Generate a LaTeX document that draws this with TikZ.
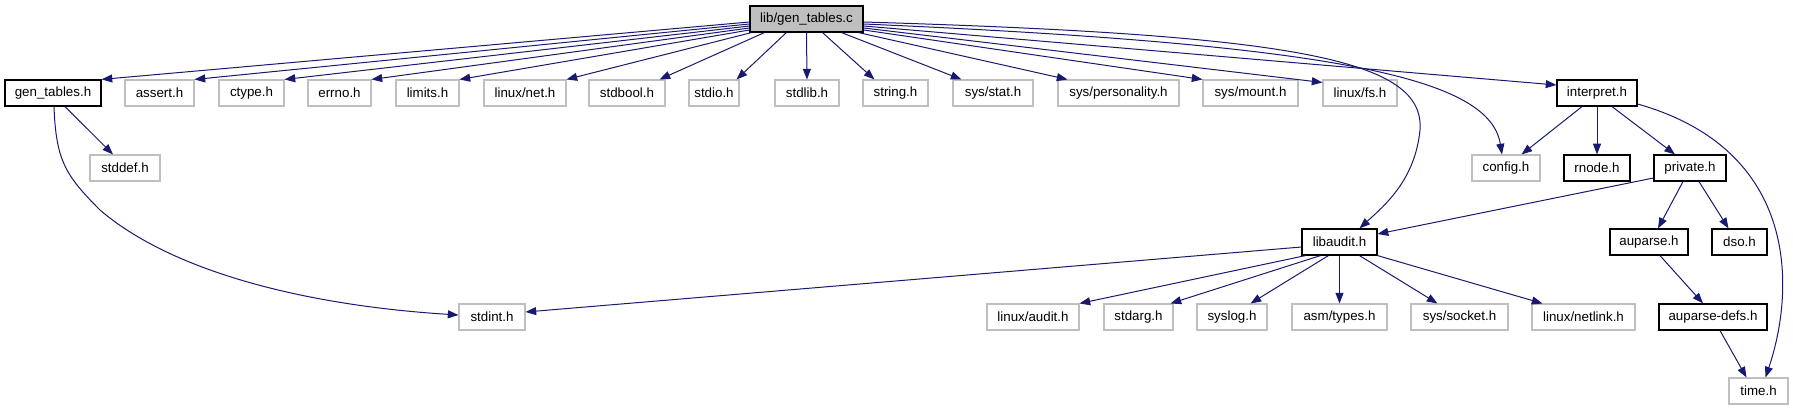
\documentclass[tikz,border=0pt]{standalone}
\usepackage{fontspec}
\setmainfont{Liberation Sans}
\usetikzlibrary{arrows.meta,calc}
\definecolor{edgeblue}{HTML}{191970}
\definecolor{greyb}{HTML}{BFBFBF}
\begin{document}
\begin{tikzpicture}[x=0.75pt,y=-0.75pt,
  every node/.style={font=\fontsize{10}{12}\selectfont, inner sep=0pt, minimum height=19.5pt, rectangle},
  dnode/.style={draw=black, line width=0.9pt, minimum width=#1*0.75pt},
  enode/.style={draw=greyb, line width=0.8pt, minimum width=#1*0.75pt},
  rootnode/.style={draw=black, fill=greyb, line width=0.9pt, minimum width=#1*0.75pt},
  dep/.style={draw=edgeblue, line width=0.75pt, -{Triangle[length=8pt,width=6pt]}}
]
\useasboundingbox (0,0) rectangle (1793,411);
% row 0
\node[rootnode=113] (root) at (806.5,19) {lib/gen\_tables.c};
% row 1
\node[dnode=96] (gt) at (53,93) {gen\_tables.h};
\node[enode=69] (assert) at (159.5,93) {assert.h};
\node[enode=65] (ctype) at (251.5,93) {ctype.h};
\node[enode=63] (errno) at (339.5,93) {errno.h};
\node[enode=63] (limits) at (427.5,93) {limits.h};
\node[enode=82] (lnet) at (525,93) {linux/net.h};
\node[enode=76] (stdbool) at (627,93) {stdbool.h};
\node[enode=50] (stdio) at (714,93) {stdio.h};
\node[enode=64] (stdlib) at (807,93) {stdlib.h};
\node[enode=65] (string) at (895.5,93) {string.h};
\node[enode=80] (sysstat) at (993,93) {sys/stat.h};
\node[enode=121] (syspers) at (1118.5,93) {sys/personality.h};
\node[enode=95] (sysmount) at (1250.5,93) {sys/mount.h};
\node[enode=74] (linuxfs) at (1360,93) {linux/fs.h};
\node[dnode=80] (interp) at (1597,93) {interpret.h};
% row 2
\node[enode=70] (stddef) at (125,168) {stddef.h};
\node[enode=68] (config) at (1506,168) {config.h};
\node[dnode=66] (rnode) at (1597,168) {rnode.h};
\node[dnode=72] (private) at (1690,168) {private.h};
% row 3
\node[dnode=75] (libaudit) at (1339.5,242) {libaudit.h};
\node[dnode=78] (auparse) at (1649,242) {auparse.h};
\node[dnode=55] (dso) at (1739.5,242) {dso.h};
% row 4
\node[enode=66] (stdint) at (492,317) {stdint.h};
\node[enode=92] (laudit) at (1033,317) {linux/audit.h};
\node[enode=69] (stdarg) at (1138.5,317) {stdarg.h};
\node[enode=70] (syslog) at (1232,317) {syslog.h};
\node[enode=95] (asmtypes) at (1339.5,317) {asm/types.h};
\node[enode=97] (socket) at (1459.5,317) {sys/socket.h};
\node[enode=103] (netlink) at (1583.5,317) {linux/netlink.h};
\node[dnode=108] (apdefs) at (1713,317) {auparse-defs.h};
% row 5
\node[enode=59] (time) at (1758.5,391) {time.h};

% edges from root
\draw[dep] ($(root.west)+(0,3)$) -- (gt.north east);
\draw[dep] ($(root.west)+(0,5)$) -- (assert.north east);
\draw[dep] ($(root.west)+(0,7)$) -- (ctype.north east);
\draw[dep] ($(root.west)+(0,9)$) -- (errno.north east);
\draw[dep] ($(root.west)+(0,11)$) -- (limits.north east);
\draw[dep] ($(root.south west)+(2,0)$) -- (lnet.north east);
\draw[dep] ($(root.south west)+(15,0)$) -- ($(stdbool.north east)+(-6,0)$);
\draw[dep] ($(root.south west)+(37,0)$) -- ($(stdio.north east)+(-3,0)$);
\draw[dep] (root.south) -- (stdlib.north);
\draw[dep] ($(root.south)+(16,0)$) -- ($(string.north west)+(12,0)$);
\draw[dep] ($(root.south east)+(-22,0)$) -- ($(sysstat.north west)+(9,0)$);
\draw[dep] ($(root.south east)+(-5,0)$) -- ($(syspers.north west)+(10,0)$);
\draw[dep] ($(root.east)+(0,11)$) -- (sysmount.north west);
\draw[dep] ($(root.east)+(0,9)$) -- ($(linuxfs.north west)+(0,3)$);
\draw[dep] ($(root.east)+(0,7)$) -- ($(interp.west)+(0,-8)$);
\draw[dep] ($(root.east)+(0,3)$) .. controls (1300,35) and (1425,60) .. (1420,130)
  .. controls (1415,180) and (1385,205) .. ($(libaudit.north)+(20,0)$);
\draw[dep] ($(root.east)+(0,5)$) .. controls (1350,45) and (1490,80) .. ($(config.north)+(-4,0)$);

% interpret.h
\draw[dep] ($(interp.south)+(-15,0)$) -- ($(config.north east)+(-19,0)$);
\draw[dep] (interp.south) -- (rnode.north);
\draw[dep] ($(interp.south)+(15,0)$) -- ($(private.north)+(-15,0)$);
\draw[dep] ($(interp.east)+(0,11)$) .. controls (1800,150) and (1795,290) .. ($(time.north)+(7,0)$);

% private.h
\draw[dep] ($(private.west)+(0,10)$) -- ($(libaudit.east)+(0,-8)$);
\draw[dep] ($(private.south)+(-7,0)$) -- ($(auparse.north)+(9,0)$);
\draw[dep] ($(private.south)+(9,0)$) -- ($(dso.north)+(-11,0)$);

% auparse chain
\draw[dep] ($(auparse.south)+(11,0)$) -- ($(apdefs.north)+(-10,0)$);
\draw[dep] ($(apdefs.south)+(7,0)$) -- ($(time.north)+(-12,0)$);

% libaudit.h
\draw[dep] ($(libaudit.west)+(0,5)$) -- ($(stdint.east)+(0,-5)$);
\draw[dep] ($(libaudit.south west)+(4,0)$) -- (laudit.north east);
\draw[dep] ($(libaudit.south west)+(19,0)$) -- ($(stdarg.north east)+(-3,0)$);
\draw[dep] ($(libaudit.south west)+(27,0)$) -- ($(syslog.north east)+(-17,0)$);
\draw[dep] (libaudit.south) -- (asmtypes.north);
\draw[dep] ($(libaudit.south)+(20,0)$) -- ($(socket.north west)+(27,0)$);
\draw[dep] (libaudit.south east) -- ($(netlink.north west)+(11,0)$);

% gen_tables.h
\draw[dep] ($(gt.south)+(12,0)$) -- ($(stddef.north)+(-12,0)$);
\draw[dep] ($(gt.south)+(1,0)$) .. controls (56,160) and (65,175) .. (100,210)
  .. controls (170,270) and (300,305) .. ($(stdint.west)+(0,-2)$);
\end{tikzpicture}
\end{document}
